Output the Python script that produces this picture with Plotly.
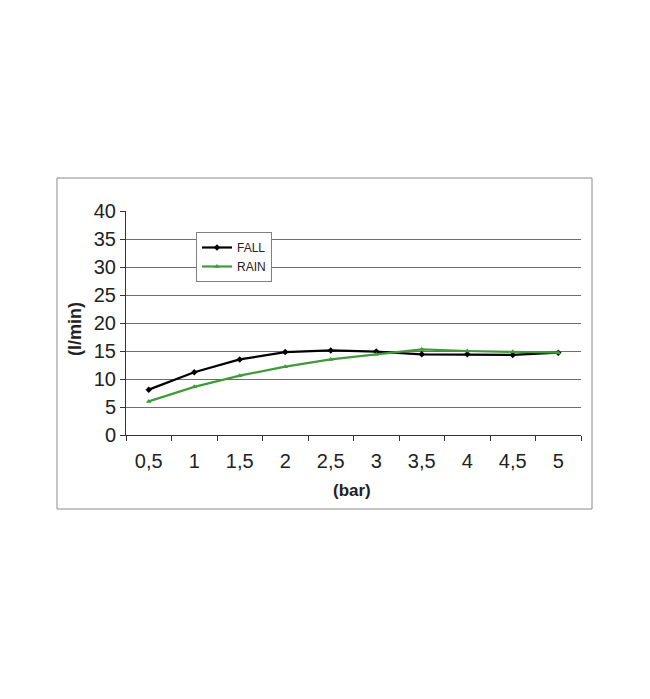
import plotly.graph_objects as go

categories = ["0,5", "1", "1,5", "2", "2,5", "3", "3,5", "4", "4,5", "5"]
fall = [8.1, 11.2, 13.5, 14.8, 15.1, 14.9, 14.4, 14.4, 14.3, 14.7]
rain = [6.0, 8.6, 10.6, 12.2, 13.5, 14.4, 15.3, 15.0, 14.85, 14.7]
y_ticks = [0, 5, 10, 15, 20, 25, 30, 35, 40]

FONT = "Liberation Sans Narrow, Arial Narrow, Liberation Sans, Arial"
tick_font = dict(family=FONT, size=20, color="#222222")

# plot area in page pixels (body margin of 8px included)
L, R, T, B = 126, 581, 211, 435
PW, PH = R - L, B - T


def px(x):
    return (x - L) / PW


def py(y):
    return (B - y) / PH


fig = go.Figure()
fig.add_trace(go.Scatter(x=categories, y=fall, name="FALL", mode="lines+markers",
                         line=dict(color="#000000", width=2.2),
                         marker=dict(symbol="diamond", size=5, color="#000000")))
fig.add_trace(go.Scatter(x=categories, y=rain, name="RAIN", mode="lines+markers",
                         line=dict(color="#409b3b", width=2.2),
                         marker=dict(symbol="triangle-up", size=5, color="#409b3b")))

fig.update_layout(
    width=650, height=699,
    margin=dict(l=L - 8, r=650 - R + 8, t=T - 8, b=699 - B + 8),
    paper_bgcolor="white", plot_bgcolor="white",
    showlegend=True,
    legend=dict(x=px(196), y=py(232), xanchor="left", yanchor="top",
                bgcolor="white", bordercolor="#808080", borderwidth=1,
                font=dict(family=FONT, size=12, color="#222222"),
                itemwidth=30, tracegroupgap=0),
    xaxis=dict(type="category", tickson="boundaries", ticks="outside", ticklen=5,
               tickcolor="#333333", showline=True, linecolor="#333333", linewidth=1,
               showgrid=False, tickfont=tick_font, ticklabelstandoff=8,
               range=[-0.5, 9.5]),
    yaxis=dict(range=[0, 40], tickvals=y_ticks, ticks="outside", ticklen=5,
               tickcolor="#333333", showline=True, linecolor="#333333", linewidth=1,
               showgrid=True, gridcolor="#6e6e6e", gridwidth=1,
               tickfont=tick_font, zeroline=False),
    shapes=[dict(type="rect", xref="paper", yref="paper",
                 x0=px(57), x1=px(592), y0=py(509), y1=py(178),
                 line=dict(color="#8a8a8a", width=1))],
    annotations=[
        dict(text="<b>(l/min)</b>", xref="paper", yref="paper",
             x=px(75), y=py(329), xanchor="center", yanchor="middle",
             showarrow=False, textangle=-90,
             font=dict(family=FONT, size=18, color="#222222")),
        dict(text="<b>(bar)</b>", xref="paper", yref="paper",
             x=px(352), y=py(490), xanchor="center", yanchor="middle",
             showarrow=False,
             font=dict(family=FONT, size=17, color="#222222")),
    ],
)

fig.write_html("out.html")
